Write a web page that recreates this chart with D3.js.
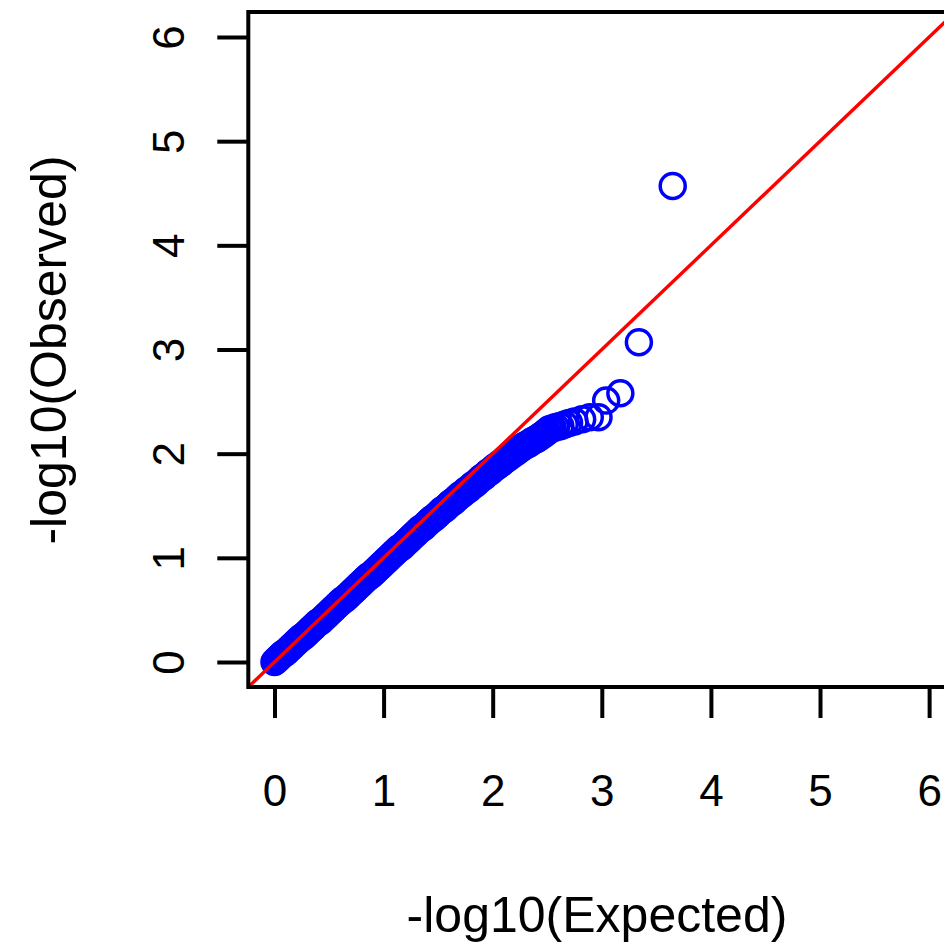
<!DOCTYPE html>
<html>
<head>
<meta charset="utf-8">
<script src="https://cdn.jsdelivr.net/npm/d3@7.9.0/dist/d3.min.js"></script>
<style>
  body { margin: 0; background: #fff; }
  #qq-plot { width: 944px; height: 944px; }
</style>
</head>
<body>
<div id="qq-plot"></div>
<script>
// expected vs observed -log10(p) (dense band, then the tail)
const expected = [
  0.00, 0.02, 0.04, 0.06, 0.08, 0.10, 0.12, 0.14, 0.16, 0.18,
  0.20, 0.22, 0.24, 0.26, 0.28, 0.30, 0.32, 0.34, 0.36, 0.38,
  0.40, 0.42, 0.44, 0.46, 0.48, 0.50, 0.52, 0.54, 0.56, 0.58,
  0.60, 0.62, 0.64, 0.66, 0.68, 0.70, 0.72, 0.74, 0.76, 0.78,
  0.80, 0.82, 0.84, 0.86, 0.88, 0.90, 0.92, 0.94, 0.96, 0.98,
  1.00, 1.02, 1.04, 1.06, 1.08, 1.10, 1.12, 1.14, 1.16, 1.18,
  1.20, 1.22, 1.24, 1.26, 1.28, 1.30, 1.32, 1.34, 1.36, 1.38,
  1.40, 1.42, 1.44, 1.46, 1.48, 1.50, 1.52, 1.54, 1.56, 1.58,
  1.60, 1.62, 1.64, 1.66, 1.68, 1.70, 1.72, 1.74, 1.76, 1.78,
  1.80, 1.82, 1.84, 1.86, 1.88, 1.90, 1.92, 1.94, 1.96, 1.98,
  2.00, 2.02, 2.04, 2.06, 2.08, 2.10, 2.12, 2.14, 2.16, 2.18,
  2.20, 2.22, 2.24, 2.26, 2.28, 2.30, 2.32, 2.34, 2.36, 2.38,
  2.40, 2.42, 2.44, 2.46, 2.48, 2.50,
  2.52, 2.55, 2.58, 2.62, 2.66, 2.70, 2.75, 2.82, 2.89, 2.97,
  3.04, 3.17, 3.34, 3.65
];
const observed = [
  0.00, 0.02, 0.04, 0.06, 0.08, 0.09, 0.11, 0.13, 0.15, 0.17,
  0.19, 0.21, 0.23, 0.24, 0.26, 0.28, 0.30, 0.32, 0.34, 0.36,
  0.38, 0.39, 0.41, 0.43, 0.45, 0.47, 0.49, 0.51, 0.53, 0.55,
  0.57, 0.59, 0.60, 0.62, 0.64, 0.66, 0.68, 0.70, 0.72, 0.74,
  0.76, 0.78, 0.80, 0.82, 0.83, 0.85, 0.87, 0.89, 0.91, 0.93,
  0.95, 0.97, 0.99, 1.01, 1.03, 1.05, 1.07, 1.09, 1.10, 1.12,
  1.14, 1.16, 1.18, 1.20, 1.22, 1.24, 1.26, 1.28, 1.29, 1.31,
  1.33, 1.35, 1.37, 1.38, 1.40, 1.42, 1.44, 1.46, 1.47, 1.49,
  1.51, 1.53, 1.54, 1.56, 1.58, 1.60, 1.61, 1.63, 1.65, 1.66,
  1.68, 1.70, 1.71, 1.73, 1.75, 1.77, 1.78, 1.80, 1.82, 1.83,
  1.85, 1.87, 1.88, 1.90, 1.91, 1.93, 1.95, 1.96, 1.98, 1.99,
  2.01, 2.02, 2.04, 2.05, 2.07, 2.08, 2.09, 2.10, 2.12, 2.13,
  2.14, 2.15, 2.17, 2.18, 2.20, 2.21,
  2.235, 2.245, 2.255, 2.265, 2.28, 2.295, 2.31, 2.33, 2.35, 2.35,
  2.51, 2.58, 3.07, 4.57
];
const xTicks = [0, 1, 2, 3, 4, 5, 6];
const yTicks = [0, 1, 2, 3, 4, 5, 6];
const xLabel = "-log10(Expected)";
const yLabel = "-log10(Observed)";

const data = expected.map((e, i) => ({ e: e, o: observed[i] }));

const width = 944, height = 944;
const font = "'Liberation Sans', Arial, Helvetica, sans-serif";

const svg = d3.select("#qq-plot")
    .append("svg")
    .attr("width", width)
    .attr("height", height)
    .style("display", "block");

// R style: axis range padded 4% each side of 0..6
const x = d3.scaleLinear().domain([-0.24, 6.24]).range([248.3, 955.3]);
const y = d3.scaleLinear().domain([-0.24, 6.24]).range([687, 12]);

// points
svg.append("g")
    .selectAll("circle")
    .data(data)
    .enter().append("circle")
    .attr("cx", d => x(d.e))
    .attr("cy", d => y(d.o))
    .attr("r", 12.5)
    .attr("fill", "none")
    .attr("stroke", "#0000ff")
    .attr("stroke-width", 3.5);

// y = x reference line
svg.append("line")
    .attr("x1", x(-0.24)).attr("y1", y(-0.24))
    .attr("x2", x(6.24)).attr("y2", y(6.24))
    .attr("stroke", "#ff0000")
    .attr("stroke-width", 3.4);

// plot box
svg.append("rect")
    .attr("x", x(-0.24))
    .attr("y", y(6.24))
    .attr("width", x(6.24) - x(-0.24))
    .attr("height", y(-0.24) - y(6.24))
    .attr("fill", "none")
    .attr("stroke", "#000")
    .attr("stroke-width", 4);

// x axis
const xAxis = svg.append("g")
    .attr("transform", `translate(0,${y(-0.24)})`)
    .call(d3.axisBottom(x).tickValues(xTicks).tickSize(31).tickFormat(d3.format("d")));
xAxis.select(".domain").remove();
xAxis.selectAll(".tick line").attr("stroke", "#000").attr("stroke-width", 4);
xAxis.selectAll(".tick text")
    .attr("y", 119)
    .attr("dy", 0)
    .attr("fill", "#000")
    .style("font-family", font)
    .style("font-size", "44px");

// y axis, labels turned like R's las=0
const yAxis = svg.append("g")
    .attr("transform", `translate(${x(-0.24)},0)`)
    .call(d3.axisLeft(y).tickValues(yTicks).tickSize(31).tickFormat(d3.format("d")));
yAxis.select(".domain").remove();
yAxis.selectAll(".tick line").attr("stroke", "#000").attr("stroke-width", 4);
yAxis.selectAll(".tick text")
    .attr("x", null)
    .attr("dy", 0)
    .attr("text-anchor", "middle")
    .attr("transform", "translate(-64,0) rotate(-90)")
    .attr("fill", "#000")
    .style("font-family", font)
    .style("font-size", "44px");

// axis titles
svg.append("text")
    .attr("x", 597)
    .attr("y", 932)
    .attr("text-anchor", "middle")
    .style("font-family", font)
    .style("font-size", "50px")
    .text(xLabel);

svg.append("text")
    .attr("transform", "translate(66,350) rotate(-90)")
    .attr("text-anchor", "middle")
    .style("font-family", font)
    .style("font-size", "50px")
    .text(yLabel);
</script>
</body>
</html>
